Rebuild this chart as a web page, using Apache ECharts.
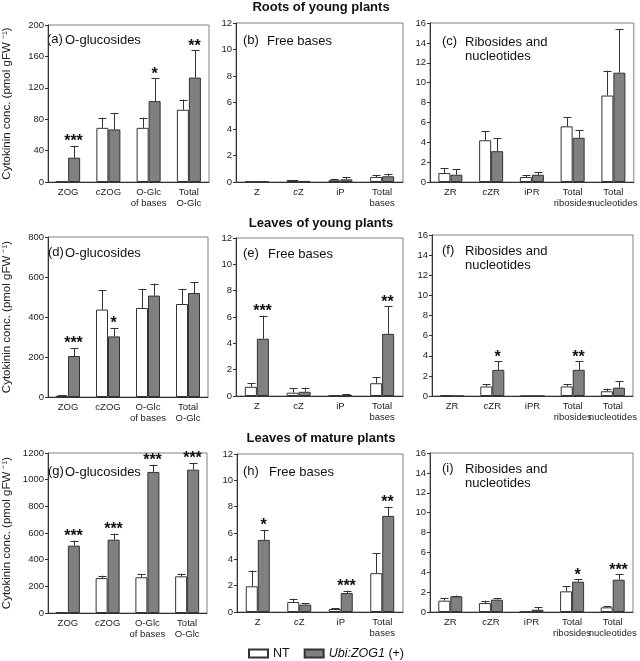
<!DOCTYPE html>
<html><head><meta charset="utf-8">
<script src="https://cdn.jsdelivr.net/npm/echarts@6/dist/echarts.min.js"></script>
<style>html,body{margin:0;padding:0;background:#fff}#c{width:640px;height:661px}</style>
</head><body><div id="c"></div>
<script>
// ---------- categories ----------
const catsGluc = ['ZOG', 'cZOG', 'O-Glc\nof bases', 'Total\nO-Glc'];
const catsBases = ['Z', 'cZ', 'iP', 'Total\nbases'];
const catsRib = ['ZR', 'cZR', 'iPR', 'Total\nribosides', 'Total\nnucleotides'];

// ---------- row titles / panel titles ----------
const rowTitles = ['Roots of young plants', 'Leaves of young plants', 'Leaves of mature plants'];
const panelLetters = ['(a)', '(b)', '(c)', '(d)', '(e)', '(f)', '(g)', '(h)', '(i)'];
const panelNames = ['O-glucosides', 'Free bases', 'Ribosides and\nnucleotides',
                    'O-glucosides', 'Free bases', 'Ribosides and\nnucleotides',
                    'O-glucosides', 'Free bases', 'Ribosides and\nnucleotides'];
const seriesNames = ['NT', 'Ubi:ZOG1 (+)'];
const yAxisName = 'Cytokinin conc. (pmol gFW \u207B\u00B9)';

// ---------- (a) roots young, O-glucosides ----------
const aNT = [0.5, 69, 69, 92];
const aNTerr = [0, 13, 13, 13];
const aZOG = [31, 67, 103, 133];
const aZOGerr = [15, 21, 29, 35];
const aStars = ['***', '', '*', '**'];
// ---------- (b) roots young, free bases ----------
const bNT = [0.03, 0.15, 0.13, 0.38];
const bNTerr = [0, 0, 0.12, 0.15];
const bZOG = [0.03, 0.08, 0.2, 0.43];
const bZOGerr = [0, 0, 0.18, 0.2];
const bStars = ['', '', '', ''];
// ---------- (c) roots young, ribosides & nucleotides ----------
const cNT = [0.9, 4.2, 0.5, 5.6, 8.7];
const cNTerr = [0.5, 0.9, 0.17, 0.9, 2.5];
const cZOG = [0.73, 3.1, 0.73, 4.45, 11.0];
const cZOGerr = [0.57, 1.3, 0.24, 0.75, 4.35];
const cStars = ['', '', '', '', ''];
// ---------- (d) leaves young, O-glucosides ----------
const dNT = [7, 437, 445, 465];
const dNTerr = [3, 96, 96, 76];
const dZOG = [205, 303, 507, 520];
const dZOGerr = [40, 42, 60, 55];
const dStars = ['***', '*', '', ''];
// ---------- (e) leaves young, free bases ----------
const eNT = [0.7, 0.25, 0.03, 0.97];
const eNTerr = [0.25, 0.33, 0.02, 0.45];
const eZOG = [4.35, 0.32, 0.07, 4.72];
const eZOGerr = [1.75, 0.31, 0.05, 2.08];
const eStars = ['***', '', '', '**'];
// ---------- (f) leaves young, ribosides & nucleotides ----------
const fNT = [0.03, 0.95, 0, 0.95, 0.47];
const fNTerr = [0.05, 0.2, 0, 0.2, 0.26];
const fZOG = [0, 2.6, 0, 2.6, 0.83];
const fZOGerr = [0, 0.85, 0, 0.85, 0.62];
const fStars = ['', '*', '', '**', ''];
// ---------- (g) leaves mature, O-glucosides ----------
const gNT = [5, 262, 268, 275];
const gNTerr = [0, 18, 24, 20];
const gZOG = [505, 550, 1058, 1075];
const gZOGerr = [38, 45, 54, 50];
const gStars = ['***', '***', '***', '***'];
// ---------- (h) leaves mature, free bases ----------
const hNT = [1.95, 0.76, 0.23, 2.95];
const hNTerr = [1.2, 0.24, 0.07, 1.52];
const hZOG = [5.48, 0.56, 1.44, 7.3];
const hZOGerr = [0.76, 0.09, 0.18, 0.7];
const hStars = ['*', '', '***', '**'];
// ---------- (i) leaves mature, ribosides & nucleotides ----------
const iNT = [1.14, 0.9, 0.03, 2.08, 0.47];
const iNTerr = [0.26, 0.24, 0, 0.5, 0.13];
const iZOG = [1.58, 1.24, 0.23, 3.05, 3.25];
const iZOGerr = [0.08, 0.16, 0.27, 0.25, 0.55];
const iStars = ['', '', '', '*', '***'];

// ---------- axis ranges ----------
const yMaxes = [200, 12, 16, 800, 12, 16, 1200, 12, 16];
const ySteps = [40, 2, 2, 200, 2, 2, 200, 2, 2];

const panelData = [
  [catsGluc, aNT, aNTerr, aZOG, aZOGerr, aStars],
  [catsBases, bNT, bNTerr, bZOG, bZOGerr, bStars],
  [catsRib, cNT, cNTerr, cZOG, cZOGerr, cStars],
  [catsGluc, dNT, dNTerr, dZOG, dZOGerr, dStars],
  [catsBases, eNT, eNTerr, eZOG, eZOGerr, eStars],
  [catsRib, fNT, fNTerr, fZOG, fZOGerr, fStars],
  [catsGluc, gNT, gNTerr, gZOG, gZOGerr, gStars],
  [catsBases, hNT, hNTerr, hZOG, hZOGerr, hStars],
  [catsRib, iNT, iNTerr, iZOG, iZOGerr, iStars]
];

// ---------- layout (style only) ----------
const grids = [
  {left: 46, top: 25, width: 163, height: 157},
  {left: 236, top: 23, width: 167, height: 159},
  {left: 430, top: 23, width: 208, height: 159},
  {left: 46, top: 237, width: 162, height: 160},
  {left: 236, top: 238, width: 167, height: 158},
  {left: 432, top: 235, width: 201, height: 161},
  {left: 46, top: 453, width: 161, height: 160},
  {left: 237, top: 454, width: 166, height: 158},
  {left: 430, top: 453, width: 203, height: 159}
];
const italicC = [true, true, true, false, false, true, true, true, true];
const labelPos = [
  {lx: 47, tx: 65, y: 33}, {lx: 243, tx: 267, y: 34}, {lx: 442, tx: 465, y: 35},
  {lx: 48, tx: 65, y: 246}, {lx: 243, tx: 268, y: 247}, {lx: 442, tx: 465, y: 244},
  {lx: 48, tx: 65, y: 465}, {lx: 243, tx: 269, y: 465}, {lx: 442, tx: 465, y: 462}
];
const rowTitleY = [7, 223, 438];

const FONT = "'Liberation Sans', Arial, Helvetica, sans-serif";
const BAR_W = 12;
const GRAY = '#808080';
const EDGE = '#333';

const option = {
  animation: false,
  backgroundColor: '#fff',
  textStyle: {fontFamily: FONT},
  grid: grids.map(g => Object.assign({show: true, borderColor: '#808080', borderWidth: 1, containLabel: false}, g)),
  xAxis: [], yAxis: [], series: [], graphic: [],
  legend: {
    data: seriesNames.map(n => ({name: n, icon: 'rect'})),
    left: 243, top: 642,
    itemWidth: 19, itemHeight: 8, itemGap: 14,
    textStyle: {fontSize: 12.5, color: '#111', fontFamily: FONT,
      rich: {i: {fontStyle: 'italic', fontSize: 12.5, color: '#111', fontFamily: FONT}}},
    formatter: n => n === 'NT' ? 'NT' : '{i|Ubi:ZOG1} (+)'
  }
};

panelData.forEach((p, k) => {
  const [cats, nt, ntErr, zog, zogErr, stars] = p;
  const ic = italicC[k];
  option.xAxis.push({
    type: 'category', gridIndex: k, data: cats,
    axisLine: {lineStyle: {color: EDGE, width: 1}},
    axisTick: {show: false},
    axisLabel: {
      interval: 0, fontSize: 9.5, color: '#222', margin: 5, lineHeight: 11, fontFamily: FONT,
      formatter: v => (ic && v.charAt(0) === 'c') ? '{i|c}' + v.slice(1) : v,
      rich: {i: {fontStyle: 'italic', fontSize: 9.5, color: '#222', fontFamily: FONT}}
    }
  });
  option.yAxis.push({
    type: 'value', gridIndex: k, min: 0, max: yMaxes[k], interval: ySteps[k],
    axisLine: {show: true, lineStyle: {color: EDGE, width: 1}},
    axisTick: {show: true, length: 3, lineStyle: {color: EDGE}},
    axisLabel: {fontSize: 9.5, color: '#222', margin: 4, fontFamily: FONT, formatter: v => String(v)},
    splitLine: {show: false},
    name: (k % 3 === 0) ? yAxisName : '',
    nameLocation: 'middle', nameGap: 35, nameRotate: 90,
    nameTextStyle: {fontSize: 11.5, color: '#222', fontFamily: FONT}
  });
  option.series.push({
    type: 'bar', name: seriesNames[0], xAxisIndex: k, yAxisIndex: k, data: nt,
    barWidth: BAR_W, barGap: '0%',
    itemStyle: {color: '#fff', borderColor: EDGE, borderWidth: 1}
  });
  option.series.push({
    type: 'bar', name: seriesNames[1], xAxisIndex: k, yAxisIndex: k, data: zog,
    barWidth: BAR_W, barGap: '0%',
    itemStyle: {color: GRAY, borderColor: EDGE, borderWidth: 1}
  });
  [[nt, ntErr, -BAR_W / 2, null], [zog, zogErr, BAR_W / 2, stars]].forEach(([vals, errs, off, st]) => {
    option.series.push({
      type: 'custom', name: 'err', xAxisIndex: k, yAxisIndex: k, z: 5, silent: true,
      coordinateSystem: 'cartesian2d',
      data: vals.map((v, j) => [j, v, errs[j]]),
      renderItem: (params, api) => {
        const j = params.dataIndex;
        const v = api.value(1), e = api.value(2);
        const b = api.coord([api.value(0), v]);
        const t = api.coord([api.value(0), v + e]);
        const x = Math.round(b[0] + off) + 0.5;
        const ch = [];
        if (e > 0) {
          ch.push({type: 'line', shape: {x1: x, y1: b[1], x2: x, y2: t[1]}, style: {stroke: EDGE, lineWidth: 1}});
          ch.push({type: 'line', shape: {x1: x - 4, y1: Math.round(t[1]) + 0.5, x2: x + 4, y2: Math.round(t[1]) + 0.5}, style: {stroke: EDGE, lineWidth: 1}});
        }
        if (st && st[j]) {
          ch.push({type: 'text', x: x - 1, y: t[1] - 4,
            style: {text: st[j], align: 'center', verticalAlign: 'middle', fontSize: 16, fontWeight: 'bold', fill: '#111', fontFamily: FONT}});
        }
        return {type: 'group', children: ch};
      }
    });
  });
  const lp = labelPos[k];
  option.graphic.push({type: 'text', x: lp.lx, y: lp.y,
    style: {text: panelLetters[k], fontSize: 13, fill: '#111', fontFamily: FONT, verticalAlign: 'top'}});
  option.graphic.push({type: 'text', x: lp.tx, y: lp.y,
    style: {text: panelNames[k], fontSize: 13, lineHeight: 14, fill: '#111', fontFamily: FONT, verticalAlign: 'top'}});
});

rowTitles.forEach((t, r) => {
  option.graphic.push({type: 'text', x: 321, y: rowTitleY[r],
    style: {text: t, fontSize: 13, fontWeight: 'bold', fill: '#111', fontFamily: FONT, align: 'center', verticalAlign: 'middle'}});
});

const chart = echarts.init(document.getElementById('c'), null, {renderer: 'canvas'});
chart.setOption(option);
</script>
</body></html>
